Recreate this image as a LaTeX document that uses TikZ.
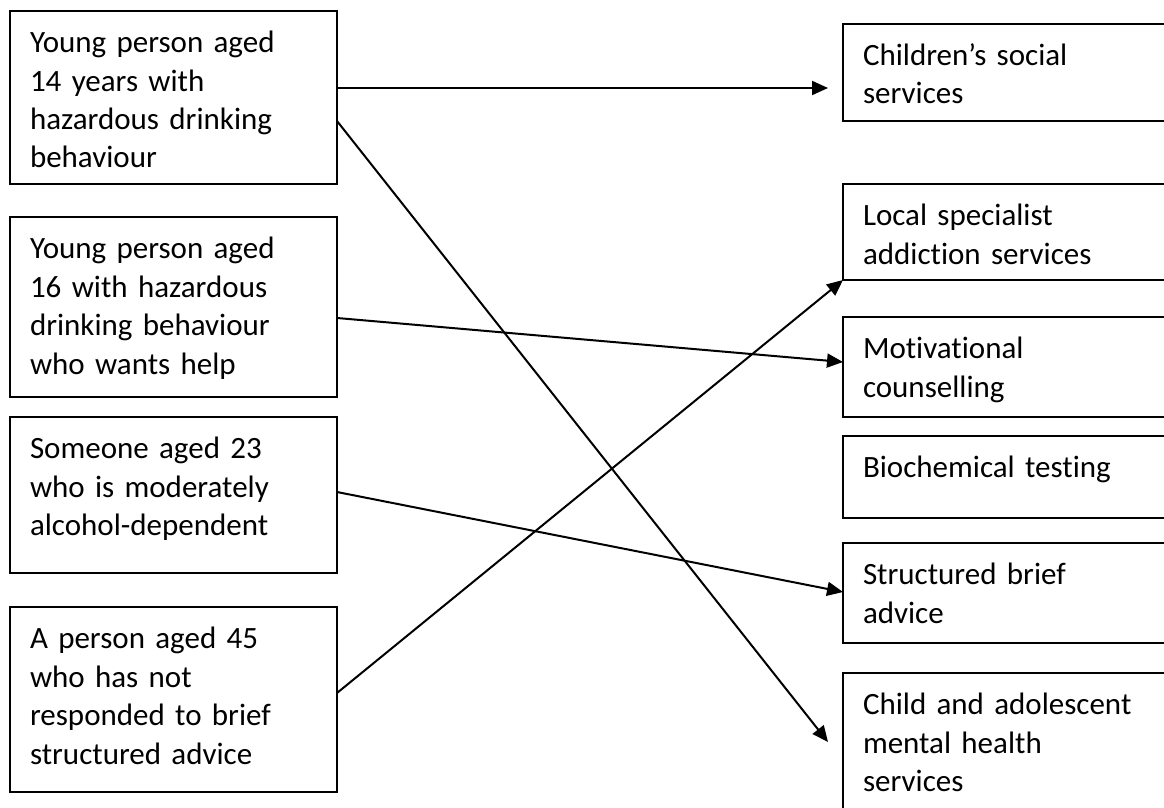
\documentclass[tikz,border=0pt]{standalone}
\usepackage{fontspec}
\setmainfont{Carlito}[Ligatures=NoCommon]
\usetikzlibrary{arrows.meta}

\begin{document}
\begin{tikzpicture}[
  x=1pt, y=-1pt,
  every node/.style={font=\fontsize{31}{38.5}\selectfont},
  box/.style={draw=black, line width=2pt, rectangle, anchor=north west, align=left,
    inner xsep=20pt, inner ysep=0pt, outer sep=0pt, text height=41.5pt},
  case/.style={box, text width=287pt},
  service/.style={box, text width=340pt},
  arr/.style={-{Triangle[length=16pt, width=14pt]}, line width=2pt}
]
\useasboundingbox (0,0) rectangle (1164,808);
\clip (0,0) rectangle (1164,808);

% left column: the young people and adults
\node[case, text depth=131.5pt] (young14) at (10,11) {Young person aged\\14 years with\\hazardous drinking\\behaviour};
\node[case, text depth=138.5pt] (young16) at (10,217) {Young person aged\\16 with hazardous\\drinking behaviour\\who wants help};
\node[case, text depth=114.5pt] (aged23) at (10,417) {Someone aged 23\\who is moderately\\alcohol-dependent};
\node[case, text depth=143.5pt] (aged45) at (10,607) {A person aged 45\\who has not\\responded to brief\\structured advice};

% right column: services (cut off at the right edge)
\node[service, text depth=55.5pt] (social) at (843,24) {Children’s social\\services};
\node[service, text depth=54.5pt] (addiction) at (843,184) {Local specialist\\addiction services};
\node[service, text depth=58.5pt] (motiv) at (843,317) {Motivational\\counselling};
\node[service, text depth=40.5pt] (biochem) at (843,436) {Biochemical testing};
\node[service, text depth=58.5pt] (brief) at (843,543) {Structured brief\\advice};
\node[service, text depth=130pt] (camhs) at (843,673) {Child and adolescent\\mental health\\services};

% matching arrows
\draw[arr] ([yshift=-77pt]young14.north east) -- ([xshift=-15pt, yshift=-64pt]social.north west);
\draw[arr] ([yshift=-110pt]young14.north east) -- ([xshift=-15pt, yshift=-69pt]camhs.north west);
\draw[arr] ([yshift=-101pt]young16.north east) -- ([yshift=-45pt]motiv.north west);
\draw[arr] ([yshift=-75pt]aged23.north east) -- ([yshift=-49pt]brief.north west);
\draw[arr] ([yshift=-86pt]aged45.north east) -- (addiction.south west);

\end{tikzpicture}
\end{document}
